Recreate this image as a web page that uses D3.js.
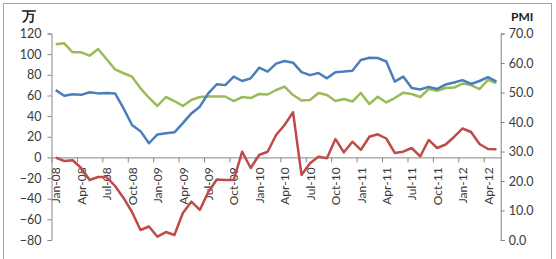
<!DOCTYPE html>
<html>
<head>
<meta charset="utf-8">
<script src="https://cdn.jsdelivr.net/npm/d3@7"></script>
<style>
  body { margin: 0; background: #fff; }
  svg text { font-family: Lato, "Open Sans", sans-serif; }
</style>
</head>
<body>
<svg id="chart" width="556" height="259"></svg>
<script>
// categories: Jan-08 .. May-12
var monthNames = ["Jan", "Feb", "Mar", "Apr", "May", "Jun", "Jul", "Aug", "Sep", "Oct", "Nov", "Dec"]
var years = ["08", "09", "10", "11", "12"]
var months = []
years.forEach(y => monthNames.forEach(m => months.push(m + "-" + y)))
months = months.slice(0, 53)

var tickLabels = ["Jan-08", "Apr-08", "Jul-08", "Oct-08", "Jan-09", "Apr-09", "Jul-09", "Oct-09",
  "Jan-10", "Apr-10", "Jul-10", "Oct-10", "Jan-11", "Apr-11", "Jul-11", "Oct-11", "Jan-12", "Apr-12"]

// left axis (万)
var greenValues = [109.5, 110.5, 101.8, 101.8, 98.5, 105, 95, 85.3, 81.5, 78.2, 66.9, 57.8,
  49.8, 58.5, 54.6, 49.8, 55.6, 58.5, 59, 59, 59, 54.6, 58.5, 57.5,
  61.4, 60.9, 65.3, 68.5, 60.4, 55.1, 55.6, 62.4, 60.4, 54.6, 56.6, 54.1,
  62.4, 51.7, 58.8, 53.2, 57.5, 62.7, 61.4, 58.5, 66.2, 64.6, 67.2, 67.6,
  71.5, 70.1, 66.2, 75, 72.1]
var redValues = [-0.3, -3.5, -2.8, -10.3, -21.9, -19, -19, -27.7, -39.3, -52.9, -70.3, -66.9,
  -76.8, -72.3, -75.2, -53.9, -42.9, -50.9, -33.5, -21.4, -21.9, -21.9, 5.5, -10.3,
  2.3, 5.5, 21.7, 31.4, 43.7, -17, -5.7, 0.7, -0.9, 17.8, 4.9, 15.2,
  7.2, 20, 22.4, 18.3, 4.3, 5.5, 9.1, 0.9, 16.9, 9.1, 12.5, 19.8,
  28, 24.6, 13, 8.1, 7.8]
// right axis (PMI)
var blueValues = [50.8, 48.9, 49.4, 49.2, 50.1, 49.7, 49.8, 49.7, 44.6, 39, 36.9, 32.8,
  35.8, 36.2, 36.5, 39.6, 42.9, 45.2, 49.7, 52.8, 52.5, 55.4, 53.9, 54.8,
  58.4, 57.1, 59.8, 60.7, 60.1, 56.9, 55.9, 56.6, 54.8, 56.9, 57.1, 57.4,
  61, 61.8, 61.7, 60.5, 53.7, 55.4, 51.5, 51, 51.9, 51.2, 52.7, 53.4,
  54.2, 52.9, 53.9, 55.2, 53.7]

var leftTicks = [-80, -60, -40, -20, 0, 20, 40, 60, 80, 100, 120]
var rightTicks = [0, 10, 20, 30, 40, 50, 60, 70]

var dimensions = {
  width: 556,
  height: 259,
  margin: { top: 33.5, bottom: 19, left: 51.5, right: 55.3 }
}
var plotTop = dimensions.margin.top
var plotBottom = dimensions.height - dimensions.margin.bottom
var plotLeft = dimensions.margin.left
var plotRight = dimensions.width - dimensions.margin.right

var svg = d3.select("#chart")

// frame
svg.append("rect")
  .attr("x", 3.5).attr("y", 3.5)
  .attr("width", 548).attr("height", 262)
  .attr("fill", "none")
  .attr("stroke", "#a6a6a6")
  .attr("stroke-width", 1)

var xScale = d3.scalePoint()
  .domain(months)
  .range([plotLeft, plotRight])
  .padding(0.5)
var step = xScale.step()

var yLeft = d3.scaleLinear().domain([-80, 120]).range([plotBottom, plotTop])
var yRight = d3.scaleLinear().domain([0, 70]).range([plotBottom, plotTop])

var axisColor = "#868686"
var textColor = "#3a3a3a"

// left axis
var yAxisL = svg.append("g")
  .attr("transform", `translate(${plotLeft},0)`)
  .call(d3.axisLeft(yLeft).tickValues(leftTicks).tickSize(4).tickPadding(6))
yAxisL.select(".domain").attr("stroke", axisColor)
yAxisL.selectAll(".tick line").attr("stroke", axisColor)
yAxisL.selectAll("text").attr("fill", textColor).style("font-size", "12.5px")

// right axis
var yAxisR = svg.append("g")
  .attr("transform", `translate(${plotRight},0)`)
  .call(d3.axisRight(yRight).tickValues(rightTicks).tickSize(4).tickPadding(4).tickFormat(d3.format(".1f")))
yAxisR.select(".domain").attr("stroke", axisColor)
yAxisR.selectAll(".tick line").attr("stroke", axisColor)
yAxisR.selectAll("text").attr("fill", textColor).style("font-size", "12.5px")

// x axis at zero
var xAxis = svg.append("g")
  .attr("transform", `translate(0,${yLeft(0)})`)
  .call(d3.axisBottom(xScale).tickValues(tickLabels).tickSize(5).tickSizeOuter(0))
xAxis.select(".domain").attr("stroke", axisColor)
xAxis.selectAll(".tick line").attr("stroke", axisColor)
  .attr("x1", -step / 2).attr("x2", -step / 2)
xAxis.selectAll("text")
  .attr("fill", textColor)
  .style("font-size", "12px")
  .attr("text-anchor", "end")
  .attr("transform", "rotate(-90)")
  .attr("x", -10)
  .attr("y", 0)
  .attr("dy", "0.35em")

// axis titles
svg.append("text")
  .attr("x", 22).attr("y", 21)
  .attr("font-size", "14px").attr("font-weight", "bold")
  .attr("fill", "#222")
  .text("万")
svg.append("text")
  .attr("x", 511).attr("y", 21)
  .attr("font-size", "12px").attr("font-weight", "bold")
  .attr("fill", "#222")
  .text("PMI")

var lineL = d3.line().x((d, i) => xScale(months[i])).y(d => yLeft(d))
var lineR = d3.line().x((d, i) => xScale(months[i])).y(d => yRight(d))

svg.append("path").datum(greenValues)
  .attr("d", lineL).attr("fill", "none")
  .attr("stroke", "#9bbb59").attr("stroke-width", 2.5).attr("stroke-linejoin", "round")
svg.append("path").datum(blueValues)
  .attr("d", lineR).attr("fill", "none")
  .attr("stroke", "#4a7ebb").attr("stroke-width", 2.5).attr("stroke-linejoin", "round")
svg.append("path").datum(redValues)
  .attr("d", lineL).attr("fill", "none")
  .attr("stroke", "#be4b48").attr("stroke-width", 2.5).attr("stroke-linejoin", "round")
</script>
</body>
</html>
